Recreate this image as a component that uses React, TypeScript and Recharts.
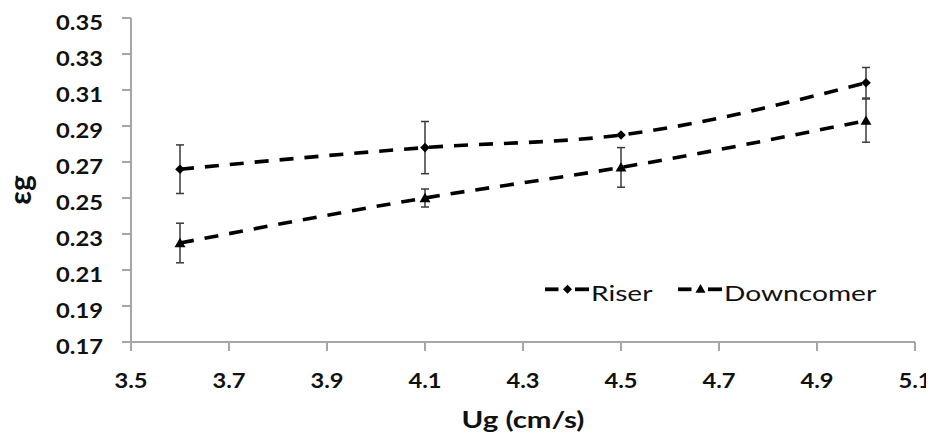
import React from 'react';
import { LineChart, Line, XAxis, YAxis, ErrorBar } from 'recharts';

// Gas velocity (cm/s) at which gas holdup was measured
const ugValues = [3.6, 4.1, 4.5, 5.0];

// Riser gas holdup and its error (± half range)
const riserValues = [0.266, 0.278, 0.285, 0.314];
const riserErrors = [0.0135, 0.0145, 0, 0.0085];

// Downcomer gas holdup and its error
const downcomerValues = [0.225, 0.25, 0.267, 0.293];
const downcomerErrors = [0.011, 0.005, 0.011, 0.012];

const xTicks = [3.5, 3.7, 3.9, 4.1, 4.3, 4.5, 4.7, 4.9, 5.1];
const yTicks = [0.17, 0.19, 0.21, 0.23, 0.25, 0.27, 0.29, 0.31, 0.33, 0.35];

const data = ugValues.map((ug, i) => ({
  ug,
  riser: riserValues[i],
  riserErr: riserErrors[i],
  downcomer: downcomerValues[i],
  downcomerErr: downcomerErrors[i],
}));

const FONT = 'Lato, "Open Sans", sans-serif';
const AXIS_GREY = '#a6a6a6';
const INK = '#000000';

const YTick = (props: any) => {
  const { x, y, payload } = props;
  return (
    <g transform={`translate(${x},${y + 11.5}) scale(1.13,1)`}>
      <text x={0} y={0} textAnchor="end" fontFamily={FONT} fontWeight={700} fontSize={21} fill="#111">
        {Number(payload.value).toFixed(2)}
      </text>
    </g>
  );
};

const XTick = (props: any) => {
  const { x, y, payload } = props;
  return (
    <g transform={`translate(${x},${y + 37}) scale(1.13,1)`}>
      <text x={0} y={0} textAnchor="middle" fontFamily={FONT} fontWeight={700} fontSize={21} fill="#111">
        {Number(payload.value).toFixed(1)}
      </text>
    </g>
  );
};

const diamondPath = (cx: number, cy: number, r: number) =>
  `M${cx},${cy - r}L${cx + r},${cy}L${cx},${cy + r}L${cx - r},${cy}Z`;

const trianglePath = (cx: number, cy: number, r: number) =>
  `M${cx},${cy - r}L${cx + r * 1.05},${cy + r * 0.8}L${cx - r * 1.05},${cy + r * 0.8}Z`;

const DiamondDot = (props: any) => {
  const { cx, cy, index } = props;
  if (cx == null || cy == null) return <g key={`d-${index}`} />;
  return <path key={`d-${index}`} d={diamondPath(cx, cy, 4.8)} fill={INK} />;
};

const TriangleDot = (props: any) => {
  const { cx, cy, index } = props;
  if (cx == null || cy == null) return <g key={`t-${index}`} />;
  return <path key={`t-${index}`} d={trianglePath(cx, cy, 5.2)} fill={INK} />;
};

// Rotated axis title; the baseline runs vertically at bx
const YTitle = (props: any) => {
  const vb = props.viewBox || { x: 0, y: 18, width: 131, height: 324 };
  const bx = vb.x + 31;
  const cy = vb.y + vb.height / 2 + 10;
  return (
    <text
      x={0}
      y={0}
      transform={`translate(${bx},${cy}) rotate(-90)`}
      textAnchor="middle"
      fontFamily={FONT}
      fontWeight={700}
      fontSize={30}
      fill="#111"
    >
      εg
    </text>
  );
};

const XTitle = (props: any) => {
  const vb = props.viewBox || { x: 131, y: 342, width: 784, height: 98 };
  const cx = vb.x + vb.width / 2;
  const by = vb.y + 86;
  return (
    <g transform={`translate(${cx},${by}) scale(1.28,1)`}>
      <text x={0} y={0} textAnchor="middle" fontFamily={FONT} fontWeight={700} fontSize={23} fill="#111">
        Ug (cm/s)
      </text>
    </g>
  );
};

const legendItems = [
  { name: 'Riser', marker: 'diamond', x: 5 },
  { name: 'Downcomer', marker: 'triangle', x: 138 },
];

const ChartLegend = () => (
  <svg width={360} height={40} style={{ display: 'block' }}>
    {legendItems.map((item) => {
      const midY = 19.3;
      const mx = item.x + 22.5;
      return (
        <g key={item.name}>
          <line x1={item.x} x2={item.x + 13.5} y1={midY} y2={midY} stroke={INK} strokeWidth={3.8} />
          <line x1={item.x + 30} x2={item.x + 44} y1={midY} y2={midY} stroke={INK} strokeWidth={3.8} />
          {item.marker === 'diamond' ? (
            <path d={diamondPath(mx, midY, 4.5)} fill={INK} />
          ) : (
            <path d={trianglePath(mx, midY - 0.5, 4.8)} fill={INK} />
          )}
          <g transform={`translate(${item.x + 46},30.7) scale(1.28,1)`}>
            <text x={0} y={0} fontFamily={FONT} fontSize={22} fill="#111">
              {item.name}
            </text>
          </g>
        </g>
      );
    })}
  </svg>
);

export default function App() {
  return (
    <div style={{ position: 'relative', width: 934, height: 440, margin: '-8px 0 0 -8px', background: '#fff' }}>
      <LineChart width={934} height={440} data={data} margin={{ top: 18, right: 19, left: 0, bottom: 0 }}>
        <XAxis
          type="number"
          dataKey="ug"
          domain={[3.5, 5.1]}
          ticks={xTicks}
          interval={0}
          height={98}
          axisLine={{ stroke: AXIS_GREY, strokeWidth: 2 }}
          tickLine={{ stroke: AXIS_GREY, strokeWidth: 2 }}
          tickSize={9}
          tickMargin={0}
          tick={<XTick />}
          label={<XTitle />}
        />
        <YAxis
          type="number"
          domain={[0.17, 0.35]}
          ticks={yTicks}
          interval={0}
          width={131}
          axisLine={{ stroke: AXIS_GREY, strokeWidth: 2 }}
          tickLine={{ stroke: AXIS_GREY, strokeWidth: 2 }}
          tickSize={9}
          tickMargin={19}
          tick={<YTick />}
          label={<YTitle />}
        />
        <Line
          type="monotone"
          dataKey="riser"
          name="Riser"
          stroke={INK}
          strokeWidth={3.6}
          strokeDasharray="14 11"
          dot={DiamondDot}
          activeDot={false}
          isAnimationActive={false}
        >
          <ErrorBar dataKey="riserErr" direction="y" width={4} stroke="#3a3a3a" strokeWidth={1.5} />
        </Line>
        <Line
          type="monotone"
          dataKey="downcomer"
          name="Downcomer"
          stroke={INK}
          strokeWidth={3.6}
          strokeDasharray="14 11"
          dot={TriangleDot}
          activeDot={false}
          isAnimationActive={false}
        >
          <ErrorBar dataKey="downcomerErr" direction="y" width={4} stroke="#3a3a3a" strokeWidth={1.5} />
        </Line>
      </LineChart>
      <div style={{ position: 'absolute', left: 540, top: 270 }}>
        <ChartLegend />
      </div>
    </div>
  );
}
